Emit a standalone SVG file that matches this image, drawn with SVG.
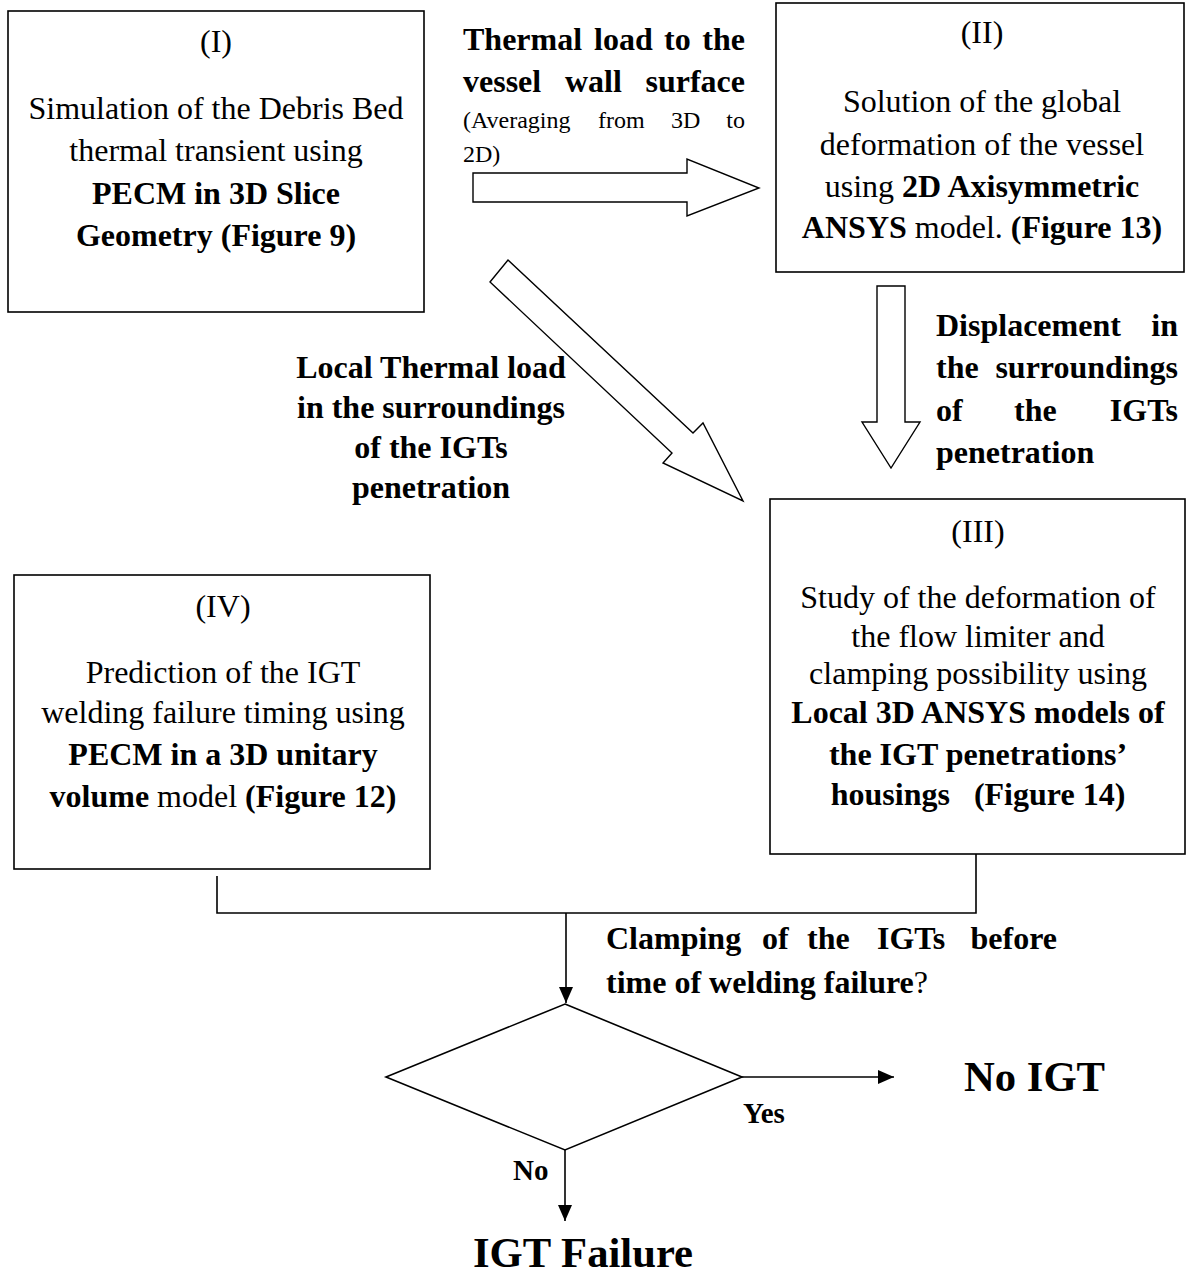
<svg xmlns="http://www.w3.org/2000/svg" width="1187" height="1275" viewBox="0 0 1187 1275">
<style>
text{font-family:"Liberation Serif","Times New Roman",serif;fill:#000;font-size:32px}
.b{font-weight:bold}
.box{fill:#fff;stroke:#000;stroke-width:1.6}
.blk{fill:#fff;stroke:#000;stroke-width:1.4;stroke-linejoin:miter}
.ln{fill:none;stroke:#000;stroke-width:1.6}
.sm{font-size:24px}
.yn{font-size:29px;font-weight:bold}
.big{font-size:42.67px;font-weight:bold}
</style>
<defs>
<marker id="ah" markerUnits="userSpaceOnUse" markerWidth="16" markerHeight="14" refX="16" refY="7" orient="auto">
<path d="M0,0 L16,7 L0,14 z" fill="#000"/>
</marker>
<clipPath id="clipLocal"><rect x="0" y="0" width="1187" height="505"/></clipPath>
</defs>
<rect width="1187" height="1275" fill="#fff"/>

<g id="node-I">
<rect class="box" x="8" y="11" width="416" height="301"/>
<text x="216" y="52" text-anchor="middle">(I)</text>
<text x="216" y="119" text-anchor="middle">Simulation of the Debris Bed</text>
<text x="216" y="161" text-anchor="middle">thermal transient using</text>
<text x="216" y="204" text-anchor="middle" class="b">PECM in 3D Slice</text>
<text x="216" y="246" text-anchor="middle" class="b">Geometry (Figure 9)</text>
</g>

<g id="node-II">
<rect class="box" x="776" y="3" width="408" height="269"/>
<text x="982" y="43" text-anchor="middle">(II)</text>
<text x="982" y="112" text-anchor="middle">Solution of the global</text>
<text x="982" y="155" text-anchor="middle">deformation of the vessel</text>
<text x="982" y="197" text-anchor="middle">using <tspan class="b">2D Axisymmetric</tspan></text>
<text x="982" y="238" text-anchor="middle"><tspan class="b">ANSYS</tspan> model. <tspan class="b">(Figure 13)</tspan></text>
</g>

<g id="node-III">
<rect class="box" x="770" y="499" width="415" height="355"/>
<text x="978" y="542" text-anchor="middle">(III)</text>
<text x="978" y="608" text-anchor="middle">Study of the deformation of</text>
<text x="978" y="647" text-anchor="middle">the flow limiter and</text>
<text x="978" y="684" text-anchor="middle">clamping possibility using</text>
<text x="978" y="723" text-anchor="middle" class="b">Local 3D ANSYS models of</text>
<text x="978" y="765" text-anchor="middle" class="b">the IGT penetrations’</text>
<text x="978" y="805" text-anchor="middle" class="b" xml:space="preserve">housings   (Figure 14)</text>
</g>

<g id="node-IV">
<rect class="box" x="14" y="575" width="416" height="294"/>
<text x="223" y="617" text-anchor="middle">(IV)</text>
<text x="223" y="683" text-anchor="middle">Prediction of the IGT</text>
<text x="223" y="723" text-anchor="middle">welding failure timing using</text>
<text x="223" y="765" text-anchor="middle" class="b">PECM in a 3D unitary</text>
<text x="223" y="807" text-anchor="middle"><tspan class="b">volume</tspan> model <tspan class="b">(Figure 12)</tspan></text>
</g>

<g id="node-decision">
<polygon class="box" points="565,1004 742,1077 565,1150 386,1077"/>
</g>

<g id="node-noigt">
<text x="964" y="1091" class="big">No IGT</text>
</g>

<g id="node-failure">
<text x="473" y="1267" class="big">IGT Failure</text>
</g>

<g id="connectors">
<polygon class="blk" points="473,173 687,173 687,159 759,188 687,216 687,202 473,202"/>
<polygon class="blk" points="508,260 693,433 703,423 743,501 663,463 672,453 490,282"/>
<polygon class="blk" points="877,286 905,286 905,422 920,422 891,468 862,422 877,422"/>
<path class="ln" d="M217,876 V913 H976 V854"/>
<line class="ln" x1="566" y1="913" x2="566" y2="1003" marker-end="url(#ah)"/>
<line class="ln" x1="742" y1="1077" x2="894" y2="1077" marker-end="url(#ah)"/>
<line class="ln" x1="565" y1="1150" x2="565" y2="1221" marker-end="url(#ah)"/>
</g>

<g id="labels">
<text class="b" y="50"><tspan x="463">Thermal</tspan><tspan x="594">load</tspan><tspan x="664">to</tspan><tspan x="745" text-anchor="end">the</tspan></text>
<text class="b" y="92"><tspan x="463">vessel</tspan><tspan x="565">wall</tspan><tspan x="745" text-anchor="end">surface</tspan></text>
<text class="sm" y="128"><tspan x="463">(Averaging</tspan><tspan x="598">from</tspan><tspan x="671">3D</tspan><tspan x="745" text-anchor="end">to</tspan></text>
<text class="sm" x="463" y="162">2D)</text>

<g clip-path="url(#clipLocal)">
<text class="b" x="431" y="378" text-anchor="middle">Local Thermal load</text>
<text class="b" x="431" y="418" text-anchor="middle">in the surroundings</text>
<text class="b" x="431" y="458" text-anchor="middle">of the IGTs</text>
<text class="b" x="431" y="498" text-anchor="middle">penetration</text>
</g>

<text class="b" y="336"><tspan x="936">Displacement</tspan><tspan x="1178" text-anchor="end">in</tspan></text>
<text class="b" y="378"><tspan x="936">the</tspan><tspan x="1178" text-anchor="end">surroundings</tspan></text>
<text class="b" y="421"><tspan x="936">of</tspan><tspan x="1014">the</tspan><tspan x="1178" text-anchor="end">IGTs</tspan></text>
<text class="b" x="936" y="463">penetration</text>

<text class="b" y="949"><tspan x="606">Clamping</tspan><tspan x="762">of</tspan><tspan x="807">the</tspan><tspan x="877">IGTs</tspan><tspan x="1057" text-anchor="end">before</tspan></text>
<text x="606" y="993"><tspan class="b">time of welding failure</tspan>?</text>

<text class="yn" x="743" y="1123">Yes</text>
<text class="yn" x="513" y="1180">No</text>
</g>
</svg>
